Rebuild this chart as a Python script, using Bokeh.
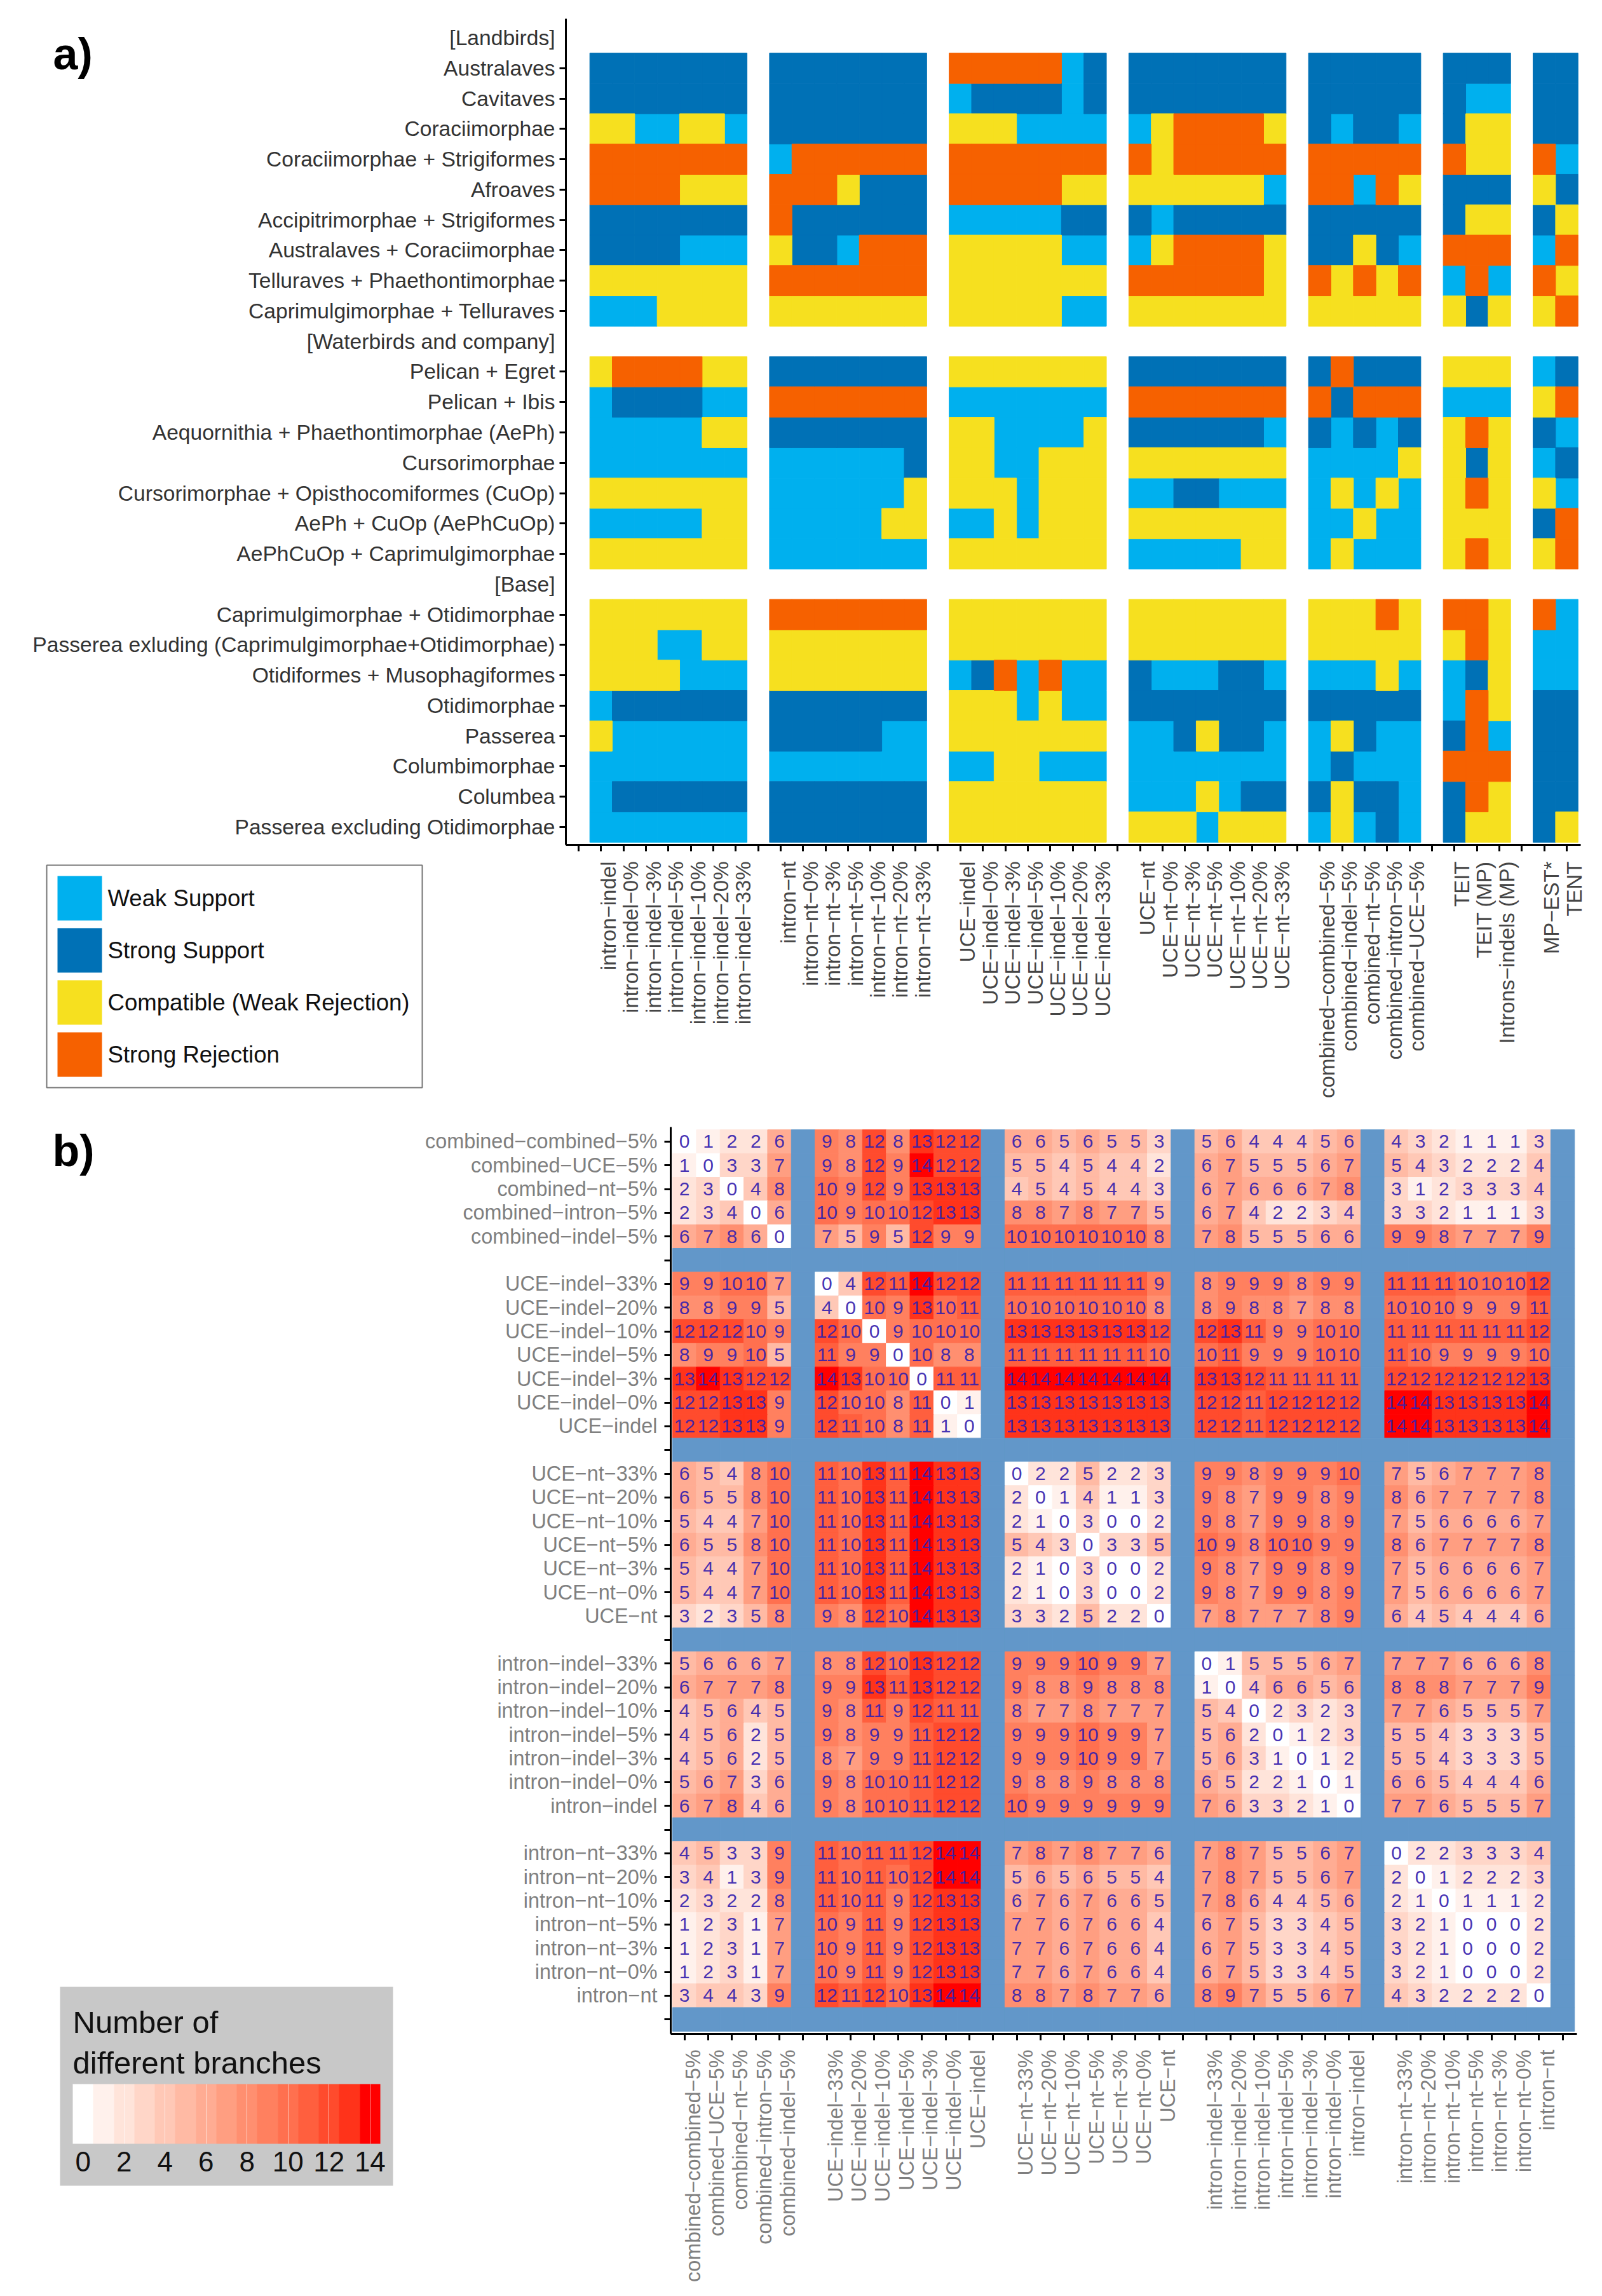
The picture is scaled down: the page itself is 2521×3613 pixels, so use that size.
import math
import numpy as np
from bokeh.plotting import figure
from bokeh.models import (ColumnDataSource, Range1d, LinearAxis, FixedTicker,
                          LinearColorMapper, ColorBar, Label)
from bokeh.core.properties import value
from bokeh.embed import file_html
from bokeh.resources import INLINE

# ---------- Panel a data ----------
a_rows = ["[Landbirds]", "Australaves", "Cavitaves", "Coraciimorphae", "Coraciimorphae + Strigiformes", "Afroaves",
          "Accipitrimorphae + Strigiformes", "Australaves + Coraciimorphae", "Telluraves + Phaethontimorphae",
          "Caprimulgimorphae + Telluraves", "[Waterbirds and company]", "Pelican + Egret", "Pelican + Ibis",
          "Aequornithia + Phaethontimorphae (AePh)", "Cursorimorphae", "Cursorimorphae + Opisthocomiformes (CuOp)",
          "AePh + CuOp (AePhCuOp)", "AePhCuOp + Caprimulgimorphae", "[Base]", "Caprimulgimorphae + Otidimorphae",
          "Passerea exluding (Caprimulgimorphae+Otidimorphae)", "Otidiformes + Musophagiformes", "Otidimorphae",
          "Passerea", "Columbimorphae", "Columbea", "Passerea excluding Otidimorphae"]
a_cols = ["intron−indel", "intron−indel−0%", "intron−indel−3%", "intron−indel−5%", "intron−indel−10%", "intron−indel−20%", "intron−indel−33%", "",
          "intron−nt", "intron−nt−0%", "intron−nt−3%", "intron−nt−5%", "intron−nt−10%", "intron−nt−20%", "intron−nt−33%", "",
          "UCE−indel", "UCE−indel−0%", "UCE−indel−3%", "UCE−indel−5%", "UCE−indel−10%", "UCE−indel−20%", "UCE−indel−33%", "",
          "UCE−nt", "UCE−nt−0%", "UCE−nt−3%", "UCE−nt−5%", "UCE−nt−10%", "UCE−nt−20%", "UCE−nt−33%", "",
          "combined−combined−5%", "combined−indel−5%", "combined−nt−5%", "combined−intron−5%", "combined−UCE−5%", "",
          "TEIT", "TEIT (MP)", "Introns−indels (MP)", "",
          "MP−EST*", "TENT"]
# W weak support, S strong support, C compatible, R strong rejection; one string per data row
block_intron_indel = ["SSSSSSS", "SSSSSSS", "CCWWCCW", "RRRRRRR", "RRRRCCC", "SSSSSSS", "SSSSWWW", "CCCCCCC", "WWWCCCC",
                      "CRRRRCC", "WSSSSWW", "WWWWWCC", "WWWWWWW", "CCCCCCC", "WWWWWCC", "CCCCCCC",
                      "CCCCCCC", "CCCWWCC", "CCCCWWW", "WSSSSSS", "CWWWWWW", "WWWWWWW", "WSSSSSS", "WWWWWWW"]
block_intron_nt = ["SSSSSSS", "SSSSSSS", "SSSSSSS", "WRRRRRR", "RRRCSSS", "RSSSSSS", "CSSWRRR", "RRRRRRR", "CCCCCCC",
                   "SSSSSSS", "RRRRRRR", "SSSSSSS", "WWWWWWS", "WWWWWWC", "WWWWWCC", "WWWWWWW",
                   "RRRRRRR", "CCCCCCC", "CCCCCCC", "SSSSSSS", "SSSSSWW", "WWWWWWW", "SSSSSSS", "SSSSSSS"]
block_uce_indel = ["RRRRRWS", "WSSSSWS", "CCCWWWW", "RRRRRRR", "RRRRRCC", "WWWWWSS", "CCCCCWW", "CCCCCCC", "CCCCCWW",
                   "CCCCCCC", "WWWWWWW", "CCWWWWC", "CCWWCCC", "CCCWCCC", "WWCWCCC", "CCCCCCC",
                   "CCCCCCC", "CCCCCCC", "WSRWRWW", "CCCWCWW", "CCCCCCC", "WWCCWWW", "CCCCCCC", "CCCCCCC"]
block_uce_nt = ["SSSSSSS", "SSSSSSS", "WCRRRRC", "RCRRRRR", "CCCCCCW", "SWSSSSS", "WCRRRRC", "RRRRRRC", "CCCCCCC",
                "SSSSSSS", "RRRRRRR", "SSSSSSW", "CCCCCCC", "WWSSWWW", "CCCCCCC", "WWWWWCC",
                "CCCCCCC", "CCCCCCC", "SWWWSSW", "SSSSSSS", "WWSCSSW", "WWWWWWW", "WWWCWSS", "CCCWCCC"]
block_combined = ["SSSSS", "SSSSS", "SWSSW", "RRRRR", "RRWRC", "SSSSS", "SSCSW", "RCRCR", "CCCCC",
                  "SRSSS", "RSRRR", "SWSWS", "WWWWC", "WCWCW", "WWCWW", "WCWWW",
                  "CCCRC", "CCCCC", "WWWCW", "SSSSS", "WCSWW", "WSWWW", "SCSSW", "WCWSW"]
block_teit = ["SSS", "SWW", "SCC", "RCC", "SSS", "SCC", "RRR", "WRW", "CSC",
              "CCC", "WWW", "CRC", "CSC", "CRC", "CCC", "CRC",
              "RRC", "CRC", "WSC", "WRC", "SRW", "RRR", "SRC", "SCC"]
block_mp = ["SS", "SS", "SS", "RW", "CS", "SC", "WR", "RC", "CR",
            "WS", "CR", "SW", "WS", "CW", "SR", "CR",
            "RW", "WW", "WW", "SS", "SS", "SS", "SS", "SC"]
a_blocks = [block_intron_indel, block_intron_nt, block_uce_indel, block_uce_nt, block_combined, block_teit, block_mp]
a_legend = [("W", "Weak Support", "#00B0EE"), ("S", "Strong Support", "#0071B6"),
            ("C", "Compatible (Weak Rejection)", "#F6E01F"), ("R", "Strong Rejection", "#F66100")]

# ---------- Panel b data ----------
b_labels = ["combined−combined−5%", "combined−UCE−5%", "combined−nt−5%", "combined−intron−5%", "combined−indel−5%", "",
            "UCE−indel−33%", "UCE−indel−20%", "UCE−indel−10%", "UCE−indel−5%", "UCE−indel−3%", "UCE−indel−0%", "UCE−indel", "",
            "UCE−nt−33%", "UCE−nt−20%", "UCE−nt−10%", "UCE−nt−5%", "UCE−nt−3%", "UCE−nt−0%", "UCE−nt", "",
            "intron−indel−33%", "intron−indel−20%", "intron−indel−10%", "intron−indel−5%", "intron−indel−3%", "intron−indel−0%", "intron−indel", "",
            "intron−nt−33%", "intron−nt−20%", "intron−nt−10%", "intron−nt−5%", "intron−nt−3%", "intron−nt−0%", "intron−nt", ""]
rows_combined = [
    [0,1,2,2,6, 9,8,12,8,13,12,12, 6,6,5,6,5,5,3, 5,6,4,4,4,5,6, 4,3,2,1,1,1,3],
    [1,0,3,3,7, 9,8,12,9,14,12,12, 5,5,4,5,4,4,2, 6,7,5,5,5,6,7, 5,4,3,2,2,2,4],
    [2,3,0,4,8, 10,9,12,9,13,13,13, 4,5,4,5,4,4,3, 6,7,6,6,6,7,8, 3,1,2,3,3,3,4],
    [2,3,4,0,6, 10,9,10,10,12,13,13, 8,8,7,8,7,7,5, 6,7,4,2,2,3,4, 3,3,2,1,1,1,3],
    [6,7,8,6,0, 7,5,9,5,12,9,9, 10,10,10,10,10,10,8, 7,8,5,5,5,6,6, 9,9,8,7,7,7,9]]
rows_uce_indel = [
    [9,9,10,10,7, 0,4,12,11,14,12,12, 11,11,11,11,11,11,9, 8,9,9,9,8,9,9, 11,11,11,10,10,10,12],
    [8,8,9,9,5, 4,0,10,9,13,10,11, 10,10,10,10,10,10,8, 8,9,8,8,7,8,8, 10,10,10,9,9,9,11],
    [12,12,12,10,9, 12,10,0,9,10,10,10, 13,13,13,13,13,13,12, 12,13,11,9,9,10,10, 11,11,11,11,11,11,12],
    [8,9,9,10,5, 11,9,9,0,10,8,8, 11,11,11,11,11,11,10, 10,11,9,9,9,10,10, 11,10,9,9,9,9,10],
    [13,14,13,12,12, 14,13,10,10,0,11,11, 14,14,14,14,14,14,14, 13,13,12,11,11,11,11, 12,12,12,12,12,12,13],
    [12,12,13,13,9, 12,10,10,8,11,0,1, 13,13,13,13,13,13,13, 12,12,11,12,12,12,12, 14,14,13,13,13,13,14],
    [12,12,13,13,9, 12,11,10,8,11,1,0, 13,13,13,13,13,13,13, 12,12,11,12,12,12,12, 14,14,13,13,13,13,14]]
rows_uce_nt = [
    [6,5,4,8,10, 11,10,13,11,14,13,13, 0,2,2,5,2,2,3, 9,9,8,9,9,9,10, 7,5,6,7,7,7,8],
    [6,5,5,8,10, 11,10,13,11,14,13,13, 2,0,1,4,1,1,3, 9,8,7,9,9,8,9, 8,6,7,7,7,7,8],
    [5,4,4,7,10, 11,10,13,11,14,13,13, 2,1,0,3,0,0,2, 9,8,7,9,9,8,9, 7,5,6,6,6,6,7],
    [6,5,5,8,10, 11,10,13,11,14,13,13, 5,4,3,0,3,3,5, 10,9,8,10,10,9,9, 8,6,7,7,7,7,8],
    [5,4,4,7,10, 11,10,13,11,14,13,13, 2,1,0,3,0,0,2, 9,8,7,9,9,8,9, 7,5,6,6,6,6,7],
    [5,4,4,7,10, 11,10,13,11,14,13,13, 2,1,0,3,0,0,2, 9,8,7,9,9,8,9, 7,5,6,6,6,6,7],
    [3,2,3,5,8, 9,8,12,10,14,13,13, 3,3,2,5,2,2,0, 7,8,7,7,7,8,9, 6,4,5,4,4,4,6]]
rows_intron_indel = [
    [5,6,6,6,7, 8,8,12,10,13,12,12, 9,9,9,10,9,9,7, 0,1,5,5,5,6,7, 7,7,7,6,6,6,8],
    [6,7,7,7,8, 9,9,13,11,13,12,12, 9,8,8,9,8,8,8, 1,0,4,6,6,5,6, 8,8,8,7,7,7,9],
    [4,5,6,4,5, 9,8,11,9,12,11,11, 8,7,7,8,7,7,7, 5,4,0,2,3,2,3, 7,7,6,5,5,5,7],
    [4,5,6,2,5, 9,8,9,9,11,12,12, 9,9,9,10,9,9,7, 5,6,2,0,1,2,3, 5,5,4,3,3,3,5],
    [4,5,6,2,5, 8,7,9,9,11,12,12, 9,9,9,10,9,9,7, 5,6,3,1,0,1,2, 5,5,4,3,3,3,5],
    [5,6,7,3,6, 9,8,10,10,11,12,12, 9,8,8,9,8,8,8, 6,5,2,2,1,0,1, 6,6,5,4,4,4,6],
    [6,7,8,4,6, 9,8,10,10,11,12,12, 10,9,9,9,9,9,9, 7,6,3,3,2,1,0, 7,7,6,5,5,5,7]]
rows_intron_nt = [
    [4,5,3,3,9, 11,10,11,11,12,14,14, 7,8,7,8,7,7,6, 7,8,7,5,5,6,7, 0,2,2,3,3,3,4],
    [3,4,1,3,9, 11,10,11,10,12,14,14, 5,6,5,6,5,5,4, 7,8,7,5,5,6,7, 2,0,1,2,2,2,3],
    [2,3,2,2,8, 11,10,11,9,12,13,13, 6,7,6,7,6,6,5, 7,8,6,4,4,5,6, 2,1,0,1,1,1,2],
    [1,2,3,1,7, 10,9,11,9,12,13,13, 7,7,6,7,6,6,4, 6,7,5,3,3,4,5, 3,2,1,0,0,0,2],
    [1,2,3,1,7, 10,9,11,9,12,13,13, 7,7,6,7,6,6,4, 6,7,5,3,3,4,5, 3,2,1,0,0,0,2],
    [1,2,3,1,7, 10,9,11,9,12,13,13, 7,7,6,7,6,6,4, 6,7,5,3,3,4,5, 3,2,1,0,0,0,2],
    [3,4,4,3,9, 12,11,12,10,13,14,14, 8,8,7,8,7,7,6, 8,9,7,5,5,6,7, 4,3,2,2,2,2,0]]
b_matrix_groups = [rows_combined, rows_uce_indel, rows_uce_nt, rows_intron_indel, rows_intron_nt]
colorbar_ticks = [0, 2, 4, 6, 8, 10, 12, 14]
colorbar_title = "Number of\ndifferent branches"

FONT = "Liberation Sans"
BLUE = "#6297C9"


def lab_white_red(t):
    """ggplot-style white to red gradient, interpolated in Lab."""
    L, a, b = 100 + (53.24 - 100) * t, 80.09 * t, 67.2 * t
    fy = (L + 16) / 116
    fx, fz = fy + a / 500, fy - b / 200
    f = lambda v: v ** 3 if v ** 3 > 0.008856 else (v - 16 / 116) / 7.787
    X, Y, Z = 0.95047 * f(fx), f(fy), 1.08883 * f(fz)
    r = 3.2406 * X - 1.5372 * Y - 0.4986 * Z
    g = -0.9689 * X + 1.8758 * Y + 0.0415 * Z
    bl = 0.0557 * X - 0.2040 * Y + 1.0570 * Z
    g2 = lambda c: 12.92 * c if c <= 0.0031308 else 1.055 * c ** (1 / 2.4) - 0.055
    return "#%02X%02X%02X" % tuple(int(round(255 * min(1, max(0, g2(c))))) for c in (r, g, bl))


palette = [lab_white_red(i / 14) for i in range(15)]


def style_axes(xaxis, yaxis, color, xlab, ylab, xoff, xticks, yticks, xsize, ysize, ytickpos, xtickpos, xstand, ystand):
    for ax in (xaxis, yaxis):
        ax.axis_line_color = "black"
        ax.axis_line_width = 3
        ax.major_tick_line_color = None
        ax.major_tick_out = 0
        ax.major_tick_in = 0
        ax.minor_tick_line_color = "black"
        ax.minor_tick_line_width = 3
        ax.minor_tick_out = 10
        ax.minor_tick_in = 0
        ax.major_label_text_font = FONT
    xpos = [v + xoff for v, s in zip(xticks, xlab)]
    xaxis.ticker = FixedTicker(ticks=xpos, minor_ticks=list(xtickpos))
    xaxis.major_label_overrides = {v: s for v, s in zip(xpos, xlab)}
    xaxis.major_label_orientation = math.pi / 2
    xaxis.major_label_standoff = xstand
    xaxis.major_label_text_font_size = xsize
    xaxis.major_label_text_color = color[0]
    yaxis.ticker = FixedTicker(ticks=list(yticks), minor_ticks=list(ytickpos))
    yaxis.major_label_overrides = {v: s for v, s in zip(yticks, ylab)}
    yaxis.major_label_standoff = ystand
    yaxis.major_label_text_font_size = ysize
    yaxis.major_label_text_color = color[1]


# ---------- Panel a ----------
pa = figure(output_backend="svg", toolbar_location=None, frame_width=1597, frame_height=1300,
            min_border_left=890, min_border_right=18, min_border_top=29, min_border_bottom=431,
            x_range=Range1d(-0.566, 44.62), y_range=Range1d(26.586, -0.628), x_axis_type=None, y_axis_type=None)
pa.grid.visible = False
pa.outline_line_color = None

data_rows = [i for i, s in enumerate(a_rows) if not s.startswith("[")]
cells = {k: ([], []) for k, _, _ in a_legend}
col0 = 1
for block in a_blocks:
    for r, codes in zip(data_rows, block):
        for c, code in enumerate(codes):
            cells[code][0].append(col0 + c)
            cells[code][1].append(r)
    col0 += len(block[0]) + 1

for code, name, colour in a_legend:
    src = ColumnDataSource(dict(x=cells[code][0], y=cells[code][1]))
    pa.rect("x", "y", width=1, height=1, source=src, fill_color=colour, line_color=colour, line_width=1)

xa = LinearAxis()
ya = LinearAxis()
pa.add_layout(xa, "below")
pa.add_layout(ya, "left")
style_axes(xa, ya, ("#454545", "#333333"), a_cols, a_rows, 0.33, list(range(1, 45)), list(range(27)),
           "33px", "33.6px", data_rows, list(range(0, 45)), 16, 7)

# key: a vertical colour bar with swatches separated by white bins, labelled at each swatch centre
key_palette = []
key_ticks = []
key_labels = {}
for code, name, colour in reversed(a_legend):
    if key_palette:
        key_palette.append("#FFFFFF")
    key_ticks.append(len(key_palette) + 3)
    key_labels[len(key_palette) + 3] = name
    key_palette.extend([colour] * 6)
key = ColorBar(color_mapper=LinearColorMapper(palette=key_palette, low=0, high=len(key_palette)),
               location=(-817, -382), orientation="vertical", width=70, height=316, padding=17, margin=0,
               background_fill_color="white", background_fill_alpha=1, border_line_color="#777777", border_line_width=2,
               ticker=FixedTicker(ticks=key_ticks), major_label_overrides=key_labels,
               major_label_text_font=FONT, major_label_text_font_size="36.6px", major_label_text_color="#111111",
               major_tick_line_color=None, minor_tick_line_color=None, bar_line_color=None, label_standoff=9)
pa.add_layout(key, "center")

# panel letter: the title of a one-pixel colour bar, which is not clipped to the frame
letter_a = ColorBar(color_mapper=LinearColorMapper(palette=["#FFFFFF"], low=0, high=1), location=(-807, 1205),
                    orientation="horizontal", width=60, height=1, padding=0, margin=0, title="a)", title_standoff=0,
                    title_text_font=FONT, title_text_font_style="bold", title_text_font_size="70px",
                    title_text_color="black", background_fill_color=None, border_line_color=None,
                    ticker=FixedTicker(ticks=[]), major_tick_line_color=None, minor_tick_line_color=None,
                    major_label_text_font_size="1px", bar_line_color=None, label_standoff=0)
pa.add_layout(letter_a, "center")

# ---------- Panel b ----------
pb = figure(output_backend="svg", toolbar_location=None, frame_width=1426, frame_height=1427,
            min_border_left=1055, min_border_right=24, min_border_top=13, min_border_bottom=395,
            x_range=Range1d(0.419, 38.6), y_range=Range1d(38.61, 0.384), x_axis_type=None, y_axis_type=None)
pb.grid.visible = False
pb.outline_line_color = None

mapper = LinearColorMapper(palette=palette, low=-0.5, high=14.5, nan_color=BLUE)
xs = []
ys = []
vals = []
tx, ty, tv = [], [], []
n_axis = len(b_labels)
row_vals = {}
y0 = 1
for grp in b_matrix_groups:
    for i, row in enumerate(grp):
        row_vals[y0 + i] = row
    y0 += len(grp) + 1
col_positions = [i + 1 for i, s in enumerate(b_labels) if s]
for yy in range(1, n_axis + 1):
    row = row_vals.get(yy)
    lookup = dict(zip(col_positions, row)) if row else {}
    for xx in range(1, n_axis + 1):
        v = lookup.get(xx, float("nan"))
        xs.append(xx)
        ys.append(yy)
        vals.append(v)
        if xx in lookup:
            tx.append(xx)
            ty.append(yy)
            tv.append(str(v))
hsrc = ColumnDataSource(dict(x=xs, y=ys, v=np.array(vals, dtype=float)))
pb.rect("x", "y", width=1, height=1, source=hsrc,
        fill_color={"field": "v", "transform": mapper}, line_color={"field": "v", "transform": mapper}, line_width=1)
pb.text(tx, ty, text=tv, text_align="center", text_baseline="middle", text_font=value(FONT),
        text_font_size="30px", text_color="#3420AE", text_alpha=0.92)

xb = LinearAxis()
yb = LinearAxis()
pb.add_layout(xb, "below")
pb.add_layout(yb, "left")
style_axes(xb, yb, ("#7F7F7F", "#7F7F7F"), b_labels, b_labels, 0.36, list(range(1, 39)), list(range(1, 39)),
           "32.4px", "32.4px", list(range(1, 39)), list(range(1, 39)), 15, 11)

cb = ColorBar(color_mapper=mapper, location=(-961, -239), orientation="horizontal", width=484, height=94,
              padding=20, margin=0, background_fill_color="#C8C8C8", background_fill_alpha=1,
              title=colorbar_title, title_text_font=FONT, title_text_font_size="49px", title_text_font_style="normal",
              title_text_color="#111111", title_standoff=12,
              ticker=FixedTicker(ticks=colorbar_ticks), major_label_text_font=FONT, major_label_text_font_size="44px",
              major_label_text_color="#111111", major_tick_line_color="white", major_tick_line_alpha=0.6,
              major_tick_in=94, major_tick_out=0, minor_tick_line_color=None, bar_line_color=None, label_standoff=12)
pb.add_layout(cb, "center")
pb.add_layout(Label(x=-25.63, y=1.4, text="b)", text_font=FONT, text_baseline="alphabetic",
                    text_font_style="bold", text_font_size="70px", text_color="black"), "left")

open("out.html", "w").write(file_html([pa, pb], INLINE))
